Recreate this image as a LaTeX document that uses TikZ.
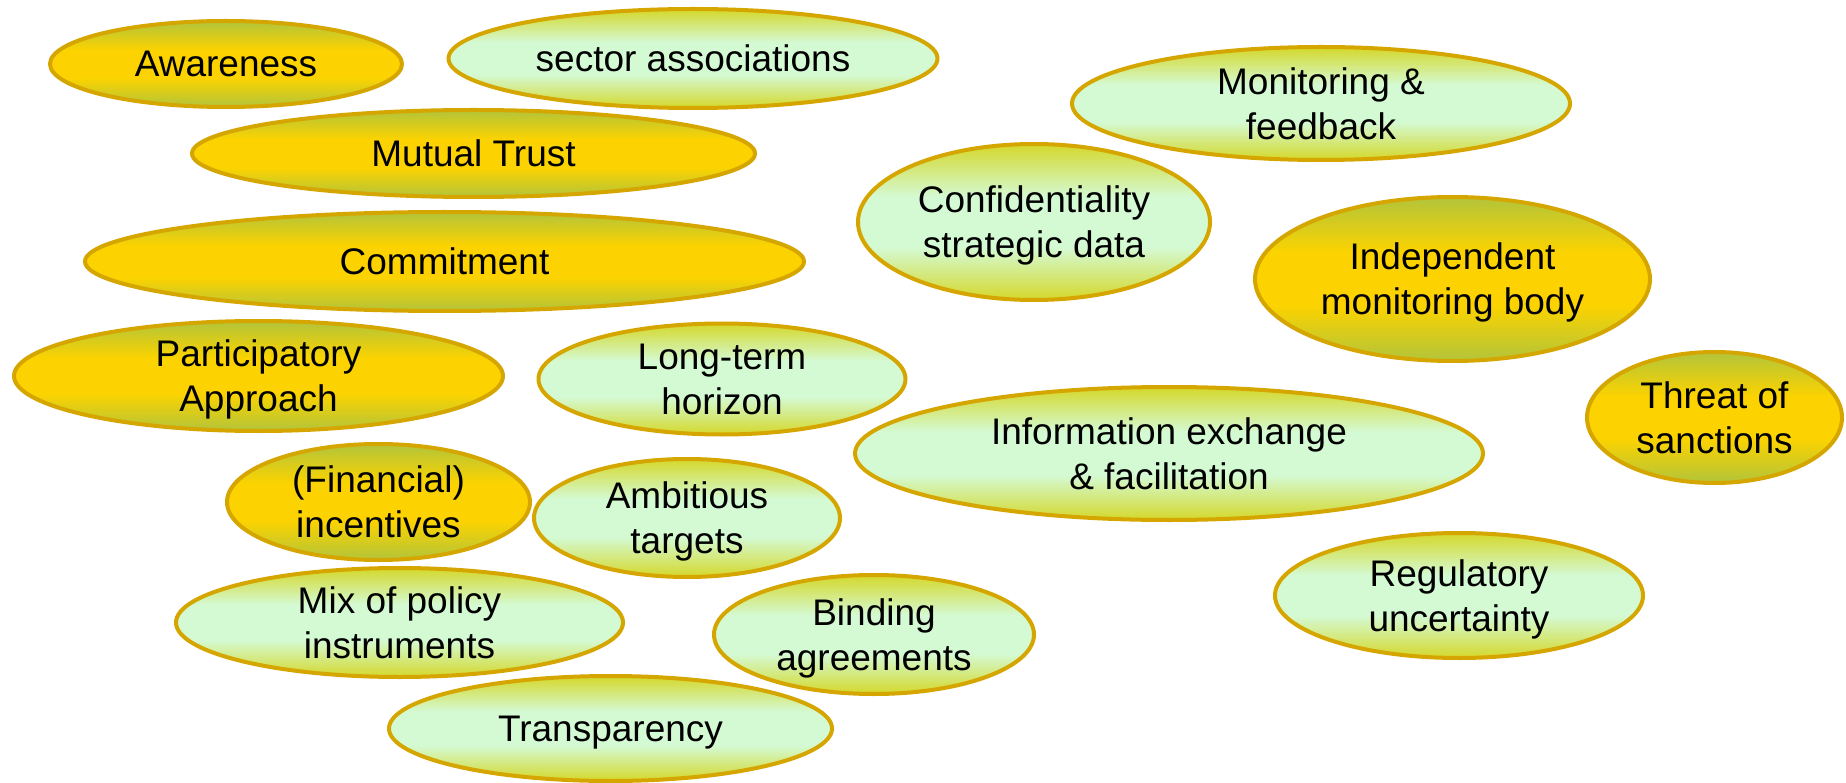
\documentclass[tikz,border=0pt]{standalone}
\usepackage{fontspec}
\setmainfont{Liberation Sans}
\usetikzlibrary{shapes.geometric}
\definecolor{goldmid}{RGB}{252,211,0}
\definecolor{goldedge}{RGB}{178,196,58}
\definecolor{greenmid}{RGB}{212,250,212}
\definecolor{greenedge}{RGB}{212,216,42}
\definecolor{rim}{RGB}{214,166,0}
\pgfdeclareverticalshading{goldsh}{100bp}{color(0bp)=(goldedge); color(25bp)=(goldedge); color(42bp)=(goldmid); color(58bp)=(goldmid); color(75bp)=(goldedge); color(100bp)=(goldedge)}
\pgfdeclareverticalshading{greensh}{100bp}{color(0bp)=(greenedge); color(25bp)=(greenedge); color(42bp)=(greenmid); color(58bp)=(greenmid); color(75bp)=(greenedge); color(100bp)=(greenedge)}
\tikzset{
  ell/.style={ellipse, draw=rim, line width=4pt, inner sep=0pt, outer sep=0pt},
  goldell/.style={ell, shade, shading=goldsh},
  greenell/.style={ell, shade, shading=greensh},
  txt/.style={inner sep=0pt, align=center, text depth=0pt, font=\fontsize{37}{45}\selectfont}
}
\begin{document}
\begin{tikzpicture}[x=1pt,y=-1pt]
\useasboundingbox (0,0) rectangle (1846,783);
% left column
\node[goldell, minimum width=352pt, minimum height=86pt] (e1) at (226,64) {};
\node[txt] (t1) at (e1.center) {Awareness};
\node[greenell, minimum width=489pt, minimum height=99pt] (e2) at (693,58.5) {};
\node[txt] (t2) at (e2.center) {sector associations};
\node[goldell, minimum width=563pt, minimum height=87pt] (e3) at (473.5,153.5) {};
\node[txt] (t3) at (e3.center) {Mutual Trust};
\node[goldell, minimum width=719pt, minimum height=99pt] (e4) at (444.5,261.5) {};
\node[txt] (t4) at (e4.center) {Commitment};
\node[goldell, minimum width=489pt, minimum height=110pt] (e5) at (258.5,376) {};
\node[txt] (t5) at (e5.center) {Participatory\\Approach};
\node[greenell, minimum width=367pt, minimum height=111pt] (e6) at (722,379) {};
\node[txt] (t6) at (e6.center) {Long-term\\horizon};
\node[goldell, minimum width=303pt, minimum height=116pt] (e7) at (378.5,502) {};
\node[txt] (t7) at (e7.center) {(Financial)\\incentives};
\node[greenell, minimum width=306pt, minimum height=118pt] (e8) at (687,518) {};
\node[txt] (t8) at (e8.center) {Ambitious\\targets};
\node[greenell, minimum width=447pt, minimum height=109pt] (e9) at (399.5,622.5) {};
\node[txt] (t9) at (e9.center) {Mix of policy\\instruments};
\node[greenell, minimum width=320pt, minimum height=119pt] (e10) at (874,634.5) {};
\node[txt] (t10) at (e10.center) {Binding\\agreements};
\node[greenell, minimum width=443pt, minimum height=105pt] (e11) at (610.5,728.5) {};
\node[txt] (t11) at (e11.center) {Transparency};
% right part
\node[greenell, minimum width=498pt, minimum height=113pt] (e12) at (1321,103.5) {};
\node[txt] (t12) at (e12.center) {Monitoring \&\\feedback};
\node[greenell, minimum width=352pt, minimum height=156pt] (e13) at (1034,222) {};
\node[txt] (t13) at (e13.center) {Confidentiality\\strategic data};
\node[goldell, minimum width=395pt, minimum height=164pt] (e14) at (1452.5,279) {};
\node[txt] (t14) at (e14.center) {Independent\\monitoring body};
\node[goldell, minimum width=255pt, minimum height=131pt] (e15) at (1714.5,417.5) {};
\node[txt] (t15) at (e15.center) {Threat of\\sanctions};
\node[greenell, minimum width=628pt, minimum height=133pt] (e16) at (1169,453.5) {};
\node[txt] (t16) at (e16.center) {Information exchange\\\& facilitation};
\node[greenell, minimum width=368pt, minimum height=125pt] (e17) at (1459,595.5) {};
\node[txt] (t17) at (e17.center) {Regulatory\\uncertainty};
\end{tikzpicture}
\end{document}
